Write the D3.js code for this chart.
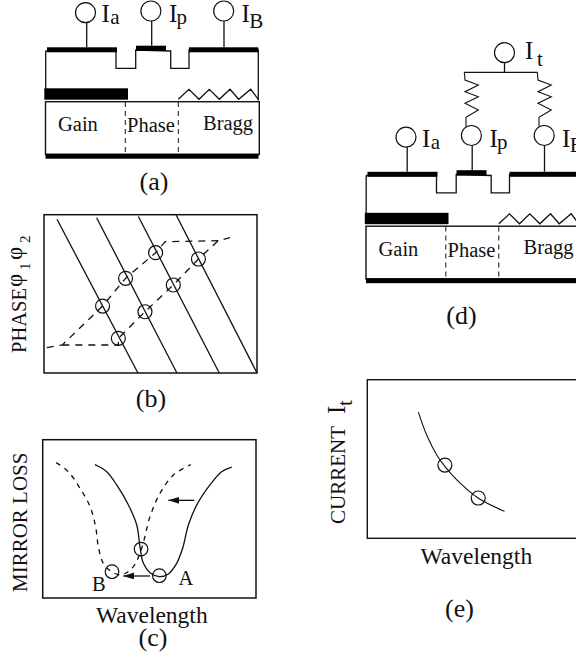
<!DOCTYPE html>
<html>
<head>
    <title>Tunable laser sections and wavelength tuning</title>
    <script src="https://d3js.org/d3.v7.min.js"></script>
    <style>
        body { margin: 0; background: #fff; }
        svg { display: block; }
        text { font-family: "Liberation Serif", serif; fill: #111; }
    </style>
</head>
<body>
    <div id="chart"></div>

    <script>
        // Device outline, values in device units (x along the cavity, y downward)
        var ridge = [[0,3],[70.5,3],[70.5,20.3],[90.2,20.3],[90.2,2],[125.2,3],[125.2,20.3],[143.5,20.3],[143.5,2],[212.8,2],[212.8,52.5]];
        var leftWall = [[0.2,3],[0.2,41]];
        var contacts = [[1.5,71.5,-0.7,4.3],[90.5,120.5,-2.3,3],[143.5,212.8,-0.7,4.3]];
        var gainBar = [-1.2,82.5,40.3,51.7];
        var substrate = [0,213.8,53.7,106.5];
        var bottomBar = [0,213,105.7,110.7];
        var sectionEdges = [79.8,132.8];
        var grating = [[132.8,51.3],[143.5,41.3],[153.5,51.3],[163.8,41.3],[173.8,51.3],[184.5,41.3],[193.2,51.3],[205.2,41.3],[212.8,51.3]];
        var pads = [[40,-35.3],[105.4,-37],[178.2,-37]];
        var stems = [[41.2,-25.5,-0.7],[106.2,-27,-2.3],[178.5,-27,-0.7]];
        var padLabels = [["a",56,64.8,-24],["p",123.5,131,-24],["B",196,203.8,-20.3]];
        var sectionLabels = [["Gain",12.5,83],["Phase",81.5,84],["Bragg",157.5,81.5]];

        // Bias network on top of device (d)
        var tPad = [138.5,-119.8];
        var tWire = [[98.3,-100.2],[171.3,-100.2]];
        var tStem = [138.5,-109.8,-100.2];
        var resistor = [[0,-100.2],[0.7,-92.5],[14,-87.5],[0.7,-80.8],[14,-75.8],[0.7,-69.2],[14,-62.5],[1.7,-55.2],[1.7,-46]];
        var resistorStarts = [98.3,171.3];

        // Panel (b), percent of the frame
        var phaseLines = [
            [[6.1,97.1],[44.1,0]],
            [[24.7,98.1],[62.4,0]],
            [[44.3,98.9],[82.3,0]],
            [[62,100],[100,0]]
        ];
        var phaseUpper = [[1.3,16],[8.6,17.7],[27.5,42.3],[38.3,59.8],[52.4,76],[56.8,82.9],[81.8,83.6]];
        var phaseLower = [[8.6,17.7],[34.9,17.7],[34.9,21.9],[47.4,38.7],[60.7,55.6],[72.5,72],[81.8,83.6],[87.3,85.5]];
        var phasePoints = [[27.5,42.3],[38.3,59.8],[52.4,76],[34.9,21.9],[47.4,38.7],[60.7,55.6],[72.5,72]];

        // Panel (c), percent of the frame
        var lossA = [[24.5,84.2],[30,79.8],[34.7,71.4],[40.2,58.7],[44.1,46.1],[45.6,32.4],[47.2,21.9],[50.3,16],[54.7,13.5],[58.9,15.2],[62.8,21.9],[65.6,31.4],[68.3,46.1],[72.2,58.7],[78.4,71.4],[83.9,79.8],[88.6,82.7]];
        var lossB = [[6.3,85.5],[12,79.8],[17.5,69.3],[22.2,57.7],[24.8,45.1],[26.1,32.4],[28.4,21.9],[32.3,16.6],[37,14.7],[42.5,19.8],[46.4,31.4],[50.3,51.4],[55,66.1],[61.3,77.7],[69.4,84.2]];
        var lossPoints = [[46.1,30.9],[54.7,14.1],[32.5,16.6]];
        var lossArrows = [[[71.1,61.7],[58.9,61.7]],[[50.3,13.9],[37.8,13.9]]];

        // Panel (e), percent of the frame
        var currentCurve = [[23.9,79.6],[27.8,65.1],[32.5,52.5],[36.4,45.2],[41.9,36.8],[52,25.2],[64.2,17]];
        var currentPoints = [[36.3,46.2],[51.9,25.4]];

        var width = 576;
        var height = 655;

        var svg = d3.select("#chart")
            .append("svg")
            .attr("width", width)
            .attr("height", height);

        svg.append("defs").append("marker")
            .attr("id", "head")
            .attr("viewBox", "0 0 11 7")
            .attr("refX", 11)
            .attr("refY", 3.5)
            .attr("markerUnits", "userSpaceOnUse")
            .attr("markerWidth", 11)
            .attr("markerHeight", 7)
            .attr("orient", "auto")
            .append("path")
            .attr("d", "M0,0L11,3.5L0,7Z")
            .attr("fill", "#111");

        function label(str, x, y, size) {
            return svg.append("text")
                .attr("x", x)
                .attr("y", y)
                .attr("font-size", size)
                .text(str);
        }

        function sideLabel(str, x, y, size) {
            return svg.append("text")
                .attr("transform", "translate(" + x + "," + y + ") rotate(-90)")
                .attr("font-size", size)
                .text(str);
        }

        function caption(str, x, y) {
            label(str, x, y, 26).attr("text-anchor", "middle");
        }

        function path(points, x, y, curve) {
            var line = d3.line()
                .x(function(d) { return x(d[0]); })
                .y(function(d) { return y(d[1]); });
            if (curve) line.curve(curve);
            return svg.append("path")
                .attr("d", line(points))
                .attr("fill", "none")
                .attr("stroke", "#111")
                .attr("stroke-width", 1.3);
        }

        function rect(box, x, y) {
            return svg.append("rect")
                .attr("x", x(box[0]))
                .attr("y", y(box[2]))
                .attr("width", x(box[1]) - x(box[0]))
                .attr("height", y(box[3]) - y(box[2]));
        }

        function circles(points, x, y, r) {
            svg.selectAll(null)
                .data(points)
                .enter()
                .append("circle")
                .attr("cx", function(d) { return x(d[0]); })
                .attr("cy", function(d) { return y(d[1]); })
                .attr("r", r)
                .attr("fill", "none")
                .attr("stroke", "#111")
                .attr("stroke-width", 1.2);
        }

        // Laser cross section, used for (a) and (d)
        function drawDevice(dx, dy) {
            var x = d3.scaleLinear().domain([0, 214]).range([45.5 + dx, 259.5 + dx]);
            var y = d3.scaleLinear().domain([0, 110]).range([48 + dy, 158 + dy]);

            path(ridge, x, y);
            path(leftWall, x, y);
            contacts.forEach(function(c) { rect(c, x, y).attr("fill", "#000"); });
            rect(gainBar, x, y).attr("fill", "#000");
            rect(substrate, x, y).attr("fill", "none").attr("stroke", "#111").attr("stroke-width", 1.4);
            rect(bottomBar, x, y).attr("fill", "#000");
            path(grating, x, y);

            sectionEdges.forEach(function(e) {
                path([[e, 54], [e, 106]], x, y)
                    .attr("stroke-width", 1)
                    .attr("stroke-dasharray", "5,4");
            });

            circles(pads, x, y, 10);
            stems.forEach(function(s) {
                path([[s[0], s[1]], [s[0], s[2]]], x, y);
            });
            padLabels.forEach(function(p) {
                label("I", x(p[1]), y(-26), 25);
                label(p[0], x(p[2]), y(p[3]), 21);
            });
            sectionLabels.forEach(function(s) {
                label(s[0], x(s[1]), y(s[2]), 20.5);
            });
            return { x: x, y: y };
        }

        // (a)
        drawDevice(0, 0);
        caption("(a)", 154, 190);

        // (d)
        var d = drawDevice(320.5, 124.5);
        circles([tPad], d.x, d.y, 10);
        path(tWire, d.x, d.y);
        path([[tStem[0], tStem[1]], [tStem[0], tStem[2]]], d.x, d.y);
        resistorStarts.forEach(function(start) {
            var sx = d3.scaleLinear().domain([0, 214]).range([d.x(start), d.x(start) + 214]);
            path(resistor, sx, d.y).attr("stroke-width", 1.1);
        });
        label("I", 525, 59, 25);
        label("t", 537, 66, 21);
        caption("(d)", 461.5, 324);

        // (b)
        var bx = d3.scaleLinear().domain([0, 100]).range([44, 257]);
        var by = d3.scaleLinear().domain([0, 100]).range([373, 214.7]);
        rect([0, 100, 100, 0], bx, by).attr("fill", "none").attr("stroke", "#111").attr("stroke-width", 1.5);
        phaseLines.forEach(function(l) { path(l, bx, by); });
        path(phaseUpper, bx, by).attr("stroke-dasharray", "7,6");
        path(phaseLower, bx, by).attr("stroke-dasharray", "7,6");
        circles(phasePoints, bx, by, 7);
        sideLabel("PHASE", 26, 353, 20.5);
        sideLabel("\u03C6", 21.5, 287, 23);
        sideLabel("1", 30, 270, 15);
        sideLabel("\u03C6", 21.5, 260, 23);
        sideLabel("2", 30, 243, 15);
        caption("(b)", 151, 407);

        // (c)
        var cx = d3.scaleLinear().domain([0, 100]).range([42.7, 256]);
        var cy = d3.scaleLinear().domain([0, 100]).range([598, 439.7]);
        rect([0, 100, 100, 0], cx, cy).attr("fill", "none").attr("stroke", "#111").attr("stroke-width", 1.5);
        path(lossA, cx, cy, d3.curveCatmullRom);
        path(lossB, cx, cy, d3.curveCatmullRom).attr("stroke-dasharray", "5,5");
        circles(lossPoints, cx, cy, 6.8);
        lossArrows.forEach(function(a) {
            path(a, cx, cy).attr("marker-end", "url(#head)");
        });
        label("A", 178.5, 585, 20.5);
        label("B", 92, 591, 20.5);
        sideLabel("MIRROR LOSS", 26.5, 592, 21);
        label("Wavelength", 96, 622.5, 23.5);
        caption("(c)", 153, 646);

        // (e)
        var ex = d3.scaleLinear().domain([0, 100]).range([367.3, 581]);
        var ey = d3.scaleLinear().domain([0, 100]).range([538.3, 379.7]);
        rect([0, 100, 100, 0], ex, ey).attr("fill", "none").attr("stroke", "#111").attr("stroke-width", 1.4);
        path(currentCurve, ex, ey, d3.curveCatmullRom).attr("stroke-width", 1.1);
        circles(currentPoints, ex, ey, 7);
        sideLabel("CURRENT", 345, 524, 21);
        sideLabel("I", 345, 414, 25);
        sideLabel("t", 351.5, 406, 21);
        label("Wavelength", 420.5, 564, 23.5);
        caption("(e)", 459.5, 617);
    </script>
</body>
</html>
